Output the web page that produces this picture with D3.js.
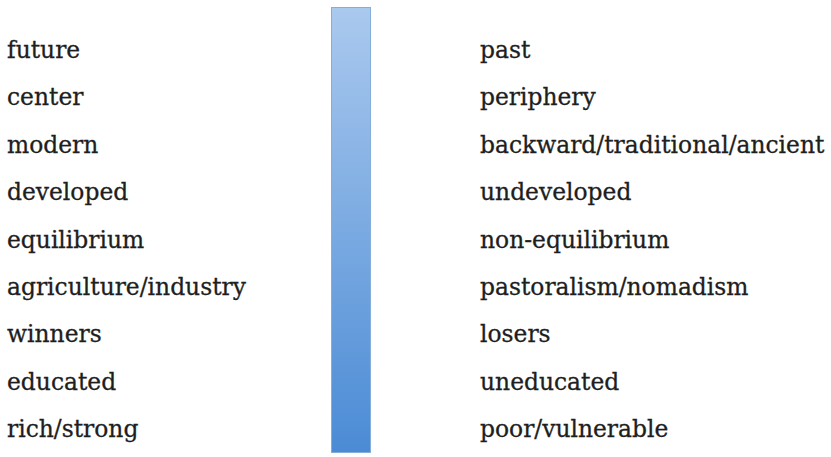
<!DOCTYPE html>
<html>
<head>
<meta charset="utf-8">
<script src="https://cdn.jsdelivr.net/npm/d3@7"></script>
<style>
  html, body { margin: 0; padding: 0; background: #fff; }
  svg { display: block; }
</style>
</head>
<body>
<script>
// window size
var wW = 831;
var wH = 457;

// the two columns of opposing terms
var leftTerms = ['future', 'center', 'modern', 'developed', 'equilibrium',
  'agriculture/industry', 'winners', 'educated', 'rich/strong'];
var rightTerms = ['past', 'periphery', 'backward/traditional/ancient', 'undeveloped',
  'non-equilibrium', 'pastoralism/nomadism', 'losers', 'uneducated', 'poor/vulnerable'];

// gradient stops for the middle bar (top -> bottom)
var barColors = ['#aac9ee', '#4b8bd5'];

var svg = d3.select('body').append('svg')
  .attr('width', wW)
  .attr('height', wH);

// rows, baseline of each label
var y = d3.scalePoint()
  .domain(d3.range(leftTerms.length))
  .range([58, 437]);

var defs = svg.append('defs');
var grad = defs.append('linearGradient')
  .attr('id', 'barGrad')
  .attr('x1', 0).attr('y1', 0)
  .attr('x2', 0).attr('y2', 1);
grad.selectAll('stop')
  .data(barColors)
  .enter().append('stop')
  .attr('offset', (d, i) => i / (barColors.length - 1))
  .attr('stop-color', d => d);

// the bar between the columns
svg.append('rect')
  .attr('x', 331.5)
  .attr('y', 7.5)
  .attr('width', 39)
  .attr('height', 445)
  .attr('fill', 'url(#barGrad)')
  .attr('stroke', '#86aedb')
  .attr('stroke-width', 1);

var font = '"DejaVu Serif", serif';
var fontSize = 23.4;

var addColumn = (terms, x0) => {
  svg.append('g')
    .selectAll('text')
    .data(terms)
    .enter().append('text')
    .attr('x', x0)
    .attr('y', (d, i) => y(i))
    .attr('font-family', font)
    .attr('font-size', fontSize)
    .attr('fill', '#1e1e1e')
    .attr('stroke', '#1e1e1e')
    .attr('stroke-width', 0.3)
    .text(d => d);
}

addColumn(leftTerms, 7);
addColumn(rightTerms, 480);
</script>
</body>
</html>
